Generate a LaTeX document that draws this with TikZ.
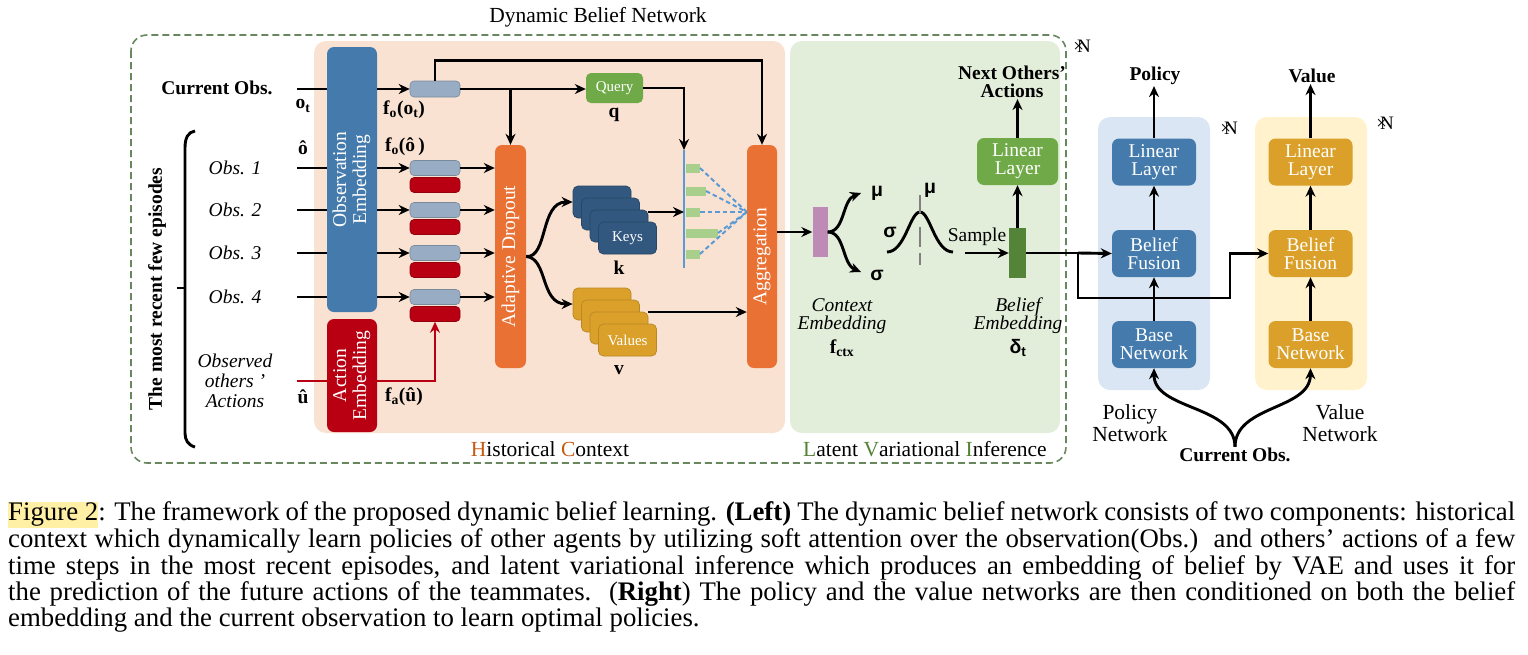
\documentclass[tikz,border=0pt]{standalone}
\usepackage{fontspec}
\setmainfont{Liberation Serif}
\newfontfamily\greekb{Liberation Sans}[BoldFont={* Bold}]
\usepackage{xcolor}
\usetikzlibrary{arrows,arrows.meta,positioning,calc}

\definecolor{obsblue}{RGB}{68,122,172}
\definecolor{actred}{RGB}{185,0,18}
\definecolor{slate}{RGB}{152,172,196}
\definecolor{dropor}{RGB}{233,113,52}
\definecolor{peach}{RGB}{250,226,210}
\definecolor{latgreen}{RGB}{226,237,218}
\definecolor{qgreen}{RGB}{112,170,72}
\definecolor{keyblue}{RGB}{50,88,128}
\definecolor{valgold}{RGB}{218,160,42}
\definecolor{ctxpurple}{RGB}{190,138,182}
\definecolor{belgreen}{RGB}{84,132,56}
\definecolor{attblue}{RGB}{91,155,213}
\definecolor{barg}{RGB}{168,208,140}
\definecolor{polbg}{RGB}{218,230,243}
\definecolor{valbg}{RGB}{255,242,204}
\definecolor{dashgreen}{RGB}{105,135,95}
\definecolor{hcor}{RGB}{197,90,17}
\definecolor{lvgreen}{RGB}{84,130,53}
\definecolor{hilite}{RGB}{255,240,165}

\newcommand{\ftitle}{\fontsize{21.5}{22}\selectfont}
\newcommand{\fmain}{\fontsize{19.5}{20}\selectfont}
\newcommand{\fsmall}{\fontsize{15}{16}\selectfont}
\newcommand{\fcap}{\fontsize{26.8}{26.2}\selectfont}
\newcommand{\gk}[1]{{\greekb\bfseries #1}}
\newcommand{\timesN}{{\fontsize{19}{19}\selectfont ×\kern-7pt N}}

\tikzstyle{arrow} = [line width=2.9pt,-{Stealth[length=11pt,width=10pt]}]
\tikzstyle{wire} = [line width=2.9pt]
\tikzstyle{block} = [rounded corners=7pt, text=white, align=center, inner sep=0pt]
\tikzstyle{slot} = [rounded corners=4pt, minimum width=50, minimum height=15, inner sep=0pt, line width=0.6pt]
\tikzstyle{card} = [block, minimum width=58, minimum height=32, rounded corners=5pt, font=\fsmall, line width=0.7pt]

\begin{document}
\begin{tikzpicture}[x=1pt,y=-1pt,>=stealth,every node/.style={inner sep=1pt, font=\fmain}]
    \useasboundingbox (0,0) rectangle (1528,654);
    % backgrounds
    \draw[dashgreen, dash pattern=on 7pt off 4pt, line width=1.6pt, rounded corners=16pt] (131,35) rectangle (1066,463);
    \fill[peach, rounded corners=12pt] (314,41) rectangle (785,433);
    \fill[latgreen, rounded corners=12pt] (790,41) rectangle (1060,433);
    \fill[polbg, rounded corners=12pt] (1098,117) rectangle (1210,390);
    \fill[valbg, rounded corners=12pt] (1255,117) rectangle (1367,390);
    \node (dbn) at (598,17) {\ftitle Dynamic Belief Network};
    \node (hc) at (550,449) {\ftitle\textcolor{hcor}{H}istorical \textcolor{hcor}{C}ontext};
    \node (lvi) at (925,449) {\ftitle\textcolor{lvgreen}{L}atent \textcolor{lvgreen}{V}ariational \textcolor{lvgreen}{I}nference};
    \node (nx1) at (1082,46) {\timesN};

    % create the nodes
    \node[rotate=90] (recent) at (157,289) {\bfseries The most recent few episodes};
    \node (cobs) at (217,88) {\bfseries Current Obs.};
    \node (ot) at (303,106) {\bfseries o\textsubscript{t}};
    \node (ohat) at (303,148) {\bfseries ô};
    \node (fot) at (404,110) {\bfseries f\textsubscript{o}(o\textsubscript{t})};
    \node (fohat) at (405,147) {\bfseries f\textsubscript{o}(ô\,)};
    \node[align=center, font=\fmain\itshape] (oact) at (235,381) {Observed\\others '\\Actions};
    \node (uhat) at (303,397) {\bfseries û};
    \node (fauhat) at (404,397) {\bfseries f\textsubscript{a}(û)};

    \node[block, fill=obsblue, minimum width=50, minimum height=265] (obsemb) at (352,179.5) {\rotatebox{90}{\begin{tabular}{@{}c@{}}Observation\\Embedding\end{tabular}}};
    \node[block, fill=actred, minimum width=50, minimum height=113] (actemb) at (352,375.5) {\rotatebox{90}{\begin{tabular}{@{}c@{}}Action\\Embedding\end{tabular}}};
    \node[block, fill=dropor, minimum width=31, minimum height=223] (drop) at (510.5,256.5) {\rotatebox{90}{Adaptive Dropout}};
    \node[block, fill=dropor, minimum width=30, minimum height=223] (agg) at (762,256.5) {\rotatebox{90}{Aggregation}};
    \node[block, fill=qgreen, minimum width=57, minimum height=30, rounded corners=5pt, font=\fsmall] (query) at (614.5,88) {Query};
    \node (q) at (614,115) {\bfseries q};
    \node[slot, fill=slate, draw=slate!80!black, minimum height=16] (fcur) at (435,89) {};

    \coordinate (cin) at (297,89);
    \foreach \r/\i in {168/1,210/2,253/3,297/4} {
        \node[font=\fmain\itshape] (obs\i) at (235,\r) {Obs. \i};
        \node[slot, fill=slate, draw=slate!80!black] (g\i) at (435,\r) {};
        \node[slot, fill=actred, draw=actred!80!black] (r\i) at (435,\r+17) {};
        \coordinate (in\i) at (297,\r);
        \draw[wire] (in\i) -- (obsemb.west |- in\i);
        \draw[arrow] (obsemb.east |- in\i) -- (g\i.west);
        \draw[arrow] (g\i.east) -- (drop.west |- g\i);
    }

    % keys and values
    \foreach \i in {0,1,2} {
        \node[card, fill=keyblue, draw=keyblue!80!black] (k\i) at (602+8.5*\i,202+12*\i) {};
    }
    \node[card, fill=keyblue, draw=keyblue!80!black] (k3) at (627.5,238) {Keys};
    \node (k) at (619,268) {\bfseries k};
    \foreach \i in {0,1,2} {
        \node[card, fill=valgold, draw=valgold!85!black] (v\i) at (602+8.5*\i,304+12*\i) {};
    }
    \node[card, fill=valgold, draw=valgold!85!black] (v3) at (627.5,340) {Values};
    \node (v) at (619,370) {\bfseries v};

    % attention weights
    \coordinate (attTop) at (684,150);
    \coordinate (attBot) at (684,268);
    \coordinate (attK) at (684,212);
    \coordinate (focus) at (agg.west |- attK);
    \coordinate (vout) at ([yshift=16pt]v2.east);
    \draw[attblue, line width=2.4pt] (attTop) -- (attBot);
    \foreach \y/\w in {168/14,191/20,212/14,233/32,254/14} {
        \fill[barg] (686,\y-4.5) rectangle ++(\w,9);
        \draw[attblue, line width=2pt, dash pattern=on 4.5pt off 3pt] (686+\w,\y) -- (focus);
    }

    % latent part
    \node[fill=ctxpurple, minimum width=15, minimum height=50, inner sep=0pt] (ctx) at (820,232) {};
    \node (mu1) at (877,193) {\gk{μ}};
    \node (sig1) at (877,275) {\gk{σ}};
    \node (mu2) at (930,190) {\gk{μ}};
    \node (sig2) at (890,232) {\gk{σ}};
    \node (smp) at (977,237) {Sample};
    \coordinate (smpin) at (965,253);
    \node[fill=belgreen, minimum width=17, minimum height=50, inner sep=0pt] (belief) at (1017.5,253) {};
    \node[block, fill=qgreen, minimum width=81, minimum height=47, font=\fontsize{19.5}{18}\selectfont] (lin0) at (1017.5,161.5) {Linear\\Layer};
    \node[align=center, font=\fontsize{19.5}{18}\selectfont\bfseries] (next) at (1012,82) {Next Others’\\Actions};
    \node[align=center, font=\fontsize{19.5}{18}\selectfont\itshape] (ctxlab) at (842,316) {Context\\Embedding};
    \node (fctx) at (842,348) {\bfseries f\textsubscript{ctx}};
    \node[align=center, font=\fontsize{19.5}{18}\selectfont\itshape] (bellab) at (1018,316) {Belief\\Embedding};
    \node (delta) at (1018,348) {\gk{δ\textsubscript{t}}};

    % policy and value networks
    \begin{scope}[every node/.append style={block, minimum width=84, minimum height=47, font=\fontsize{19.5}{18}\selectfont}]
        \node[fill=obsblue] (plin) at (1154,162) {Linear\\Layer};
        \node[fill=obsblue] (pfus) at (1154,253.5) {Belief\\Fusion};
        \node[fill=obsblue] (pbase) at (1154,344.5) {Base\\Network};
        \node[fill=valgold] (vlin) at (1310.5,162) {Linear\\Layer};
        \node[fill=valgold] (vfus) at (1310.5,253.5) {Belief\\Fusion};
        \node[fill=valgold] (vbase) at (1310.5,344.5) {Base\\Network};
    \end{scope}
    \node (pol) at (1155,76) {\bfseries Policy};
    \node (val) at (1312,76) {\bfseries Value};
    \node (nx2) at (1229,128) {\timesN};
    \node (nx3) at (1385,123) {\timesN};
    \node[align=center, font=\ftitle] (pnet) at (1130,423) {Policy\\Network};
    \node[align=center, font=\ftitle] (vnet) at (1340,423) {Value\\Network};
    \node (cobs2) at (1235,455) {\bfseries Current Obs.};
    \coordinate (split) at (1078,253);
    \coordinate (jog) at (1230,298);

    % connect the nodes
    \draw[wire] (cin) -- (obsemb.west |- cin);
    \draw[arrow] (obsemb.east |- cin) -- (fcur.west);
    \draw[arrow] (fcur.north) -- ++(0,-20) -| (agg.north);
    \draw[arrow] (fcur.east) -- (query.west |- fcur.east);
    \draw[arrow] (drop.north |- fcur.east) -- (drop.north);
    \draw[arrow] (query.east) -| (attTop);
    \coordinate (uin) at (297,381);
    \draw[wire, actred] (uin) -- (actemb.west |- uin);
    \draw[arrow, actred] (actemb.east |- uin) -| (r4.south);
    \draw[arrow] (drop.east) .. controls (548,258) and (540,202) .. (k0.west);
    \draw[arrow] (drop.east) .. controls (548,258) and (540,304) .. (v0.west);
    \draw[arrow] ([yshift=14pt]k2.east) -- (attK);
    \draw[arrow] (vout) -- (agg.west |- vout);
    \draw[arrow] (agg.east |- ctx.west) -- (ctx.west);
    \draw[arrow] (ctx.east) .. controls (845,232) and (842,200) .. (861,193);
    \draw[arrow] (ctx.east) .. controls (845,232) and (842,264) .. (861,272);
    \draw[wire] (887,252) .. controls (905,252) and (910,212) .. (920,212) .. controls (930,212) and (935,252) .. (953,252);
    \draw[gray, line width=2.8pt] (920,195) -- (920,213);
    \draw[gray, line width=2.8pt, dash pattern=on 20pt off 6pt] (920,227) -- (920,265);
    \draw[arrow] (smpin) -- (belief.west);
    \draw[arrow] (belief.north) -- (lin0.south);
    \draw[arrow] (lin0.north) -- (lin0.north |- next.south);
    \draw[wire] (belief.east) -- (split);
    \draw[arrow] (split) -- (pfus.west);
    \draw[arrow] (split) |- (jog) |- (vfus.west);
    \draw[arrow] (pbase.north) -- (pfus.south);
    \draw[arrow] (pfus.north) -- (plin.south);
    \draw[arrow] (plin.north) -- (plin.north |- pol.south);
    \draw[arrow] (vbase.north) -- (vfus.south);
    \draw[arrow] (vfus.north) -- (vlin.south);
    \draw[arrow] (vlin.north) -- (vlin.north |- val.south);
    \draw[arrow] (cobs2.north) .. controls (1235,405) and (1154,410) .. (pbase.south);
    \draw[arrow] (cobs2.north) .. controls (1235,405) and (1310,410) .. (vbase.south);

    % brace
    \draw[line width=2.9pt] (195,131) .. controls (188,132) and (185,138) .. (185,148) -- (185,433) .. controls (185,440) and (188,445) .. (195,447);
    \draw[line width=2.9pt] (185,288) -- (177,288);

    % caption
    \node[anchor=north west, text width=1507pt, align=justify, inner sep=0pt, font=\fcap] (caption) at (8,501) {\setlength{\fboxsep}{0pt}\colorbox{hilite}{\strut Figure 2}: The framework of the proposed dynamic belief learning. \textbf{(Left)} The dynamic belief network consists of two components: historical\linebreak context which dynamically learn policies of other agents by utilizing soft attention over the observation(Obs.)\ \ and others’ actions of a few\linebreak time steps in the most recent episodes, and latent variational inference which produces an embedding of belief by VAE and uses it for\linebreak the prediction of the future actions of the teammates.\ \ (\textbf{Right}) The policy and the value networks are then conditioned on both the belief\linebreak embedding and the current observation to learn optimal policies.};
\end{tikzpicture}
\end{document}
